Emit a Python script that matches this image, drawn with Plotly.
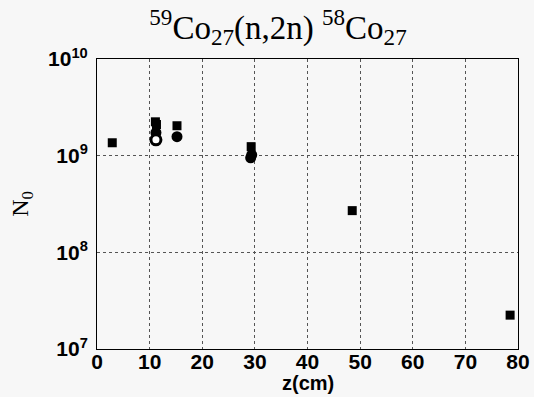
import plotly.graph_objects as go

# data
sq_z = [2.9, 11.1, 11.3, 15.2, 29.3, 48.5, 78.5]
sq_n = [1.36e9, 2.24e9, 2.1e9, 2.04e9, 1.24e9, 2.7e8, 2.24e7]
ci_z = [11.2, 15.2, 29.2, 29.4]
ci_n = [1.73e9, 1.57e9, 0.95e9, 1.02e9]
oc_z = [11.2]
oc_n = [1.46e9]

x_ticks = [0, 10, 20, 30, 40, 50, 60, 70, 80]
y_ticks = [1e7, 1e8, 1e9, 1e10]
y_ticktext = ["10<sup>7</sup>", "10<sup>8</sup>", "10<sup>9</sup>", "10<sup>10</sup>"]

fig = go.Figure()
fig.add_trace(go.Scatter(x=sq_z, y=sq_n, mode="markers",
                         marker=dict(symbol="square", size=9, color="black"), showlegend=False))
fig.add_trace(go.Scatter(x=ci_z, y=ci_n, mode="markers",
                         marker=dict(symbol="circle", size=11, color="black"), showlegend=False))
fig.add_trace(go.Scatter(x=oc_z, y=oc_n, mode="markers",
                         marker=dict(symbol="circle", size=10, color="white",
                                     line=dict(color="black", width=3)), showlegend=False))

fig.update_layout(
    width=534, height=397,
    margin=dict(l=97, r=16, t=59, b=48),
    paper_bgcolor="#f7f7f7", plot_bgcolor="#f7f7f7",
    title=dict(text="<sup>59</sup>Co<sub>27</sub>(n,2n) <sup>58</sup>Co<sub>27</sub>",
               x=278 / 534, xanchor="center", y=1 - 27 / 397, yanchor="middle",
               font=dict(family="Liberation Serif", size=33, color="black")),
    font=dict(family="Liberation Sans", color="black"),
    annotations=[dict(text="z(cm)", xref="paper", yref="paper", x=0.5, y=-34 / 290,
                      xanchor="center", yanchor="middle", showarrow=False,
                      font=dict(size=20, family="Liberation Sans", weight="bold"))],
)
fig.update_xaxes(range=[0, 80], tickvals=x_ticks, showline=True, linecolor="black", linewidth=1,
                 mirror=True, showgrid=True, gridcolor="#555", griddash="dot", gridwidth=1,
                 zeroline=False, tickfont=dict(size=21, family="Liberation Sans", weight="bold"),
                 ticks="", ticklabelstandoff=-6, automargin=False)
fig.update_yaxes(type="log", range=[7, 10], tickvals=y_ticks, ticktext=y_ticktext,
                 showline=True, linecolor="black", linewidth=1, mirror=True,
                 showgrid=True, gridcolor="#555", griddash="dot", gridwidth=1, zeroline=False,
                 tickfont=dict(size=21, family="Liberation Sans", weight="bold"), ticks="",
                 ticklabelstandoff=4, automargin=False,
                 title=dict(text="N<sub>0</sub>", font=dict(size=24, family="Liberation Serif"), standoff=12))
fig.write_html("out.html")
